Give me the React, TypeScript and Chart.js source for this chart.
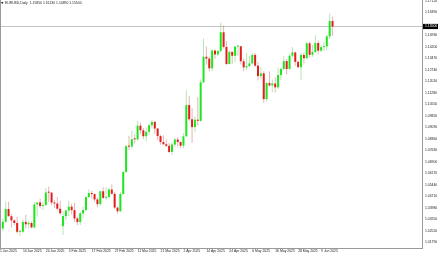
import React, { useEffect, useRef } from 'react';
import { Chart, registerables } from 'chart.js';

Chart.register(...registerables);

const symbolTitle = 'EURUSD,Daily';

const dates = [
  '01-01','01-02','01-03','01-06','01-07','01-08','01-09','01-10','01-13','01-14','01-15','01-16','01-17','01-20','01-21','01-22','01-23','01-24','01-27','01-28','01-29','01-30','01-31',
  '02-03','02-04','02-05','02-06','02-07','02-10','02-11','02-12','02-13','02-14','02-17','02-18','02-19','02-20','02-21','02-24','02-25','02-26','02-27','02-28',
  '03-03','03-04','03-05','03-06','03-07','03-10','03-11','03-12','03-13','03-14','03-17','03-18','03-19','03-20','03-21','03-24','03-25','03-26','03-27','03-28','03-31',
  '04-01','04-02','04-03','04-04','04-07','04-08','04-09','04-10','04-11','04-14','04-15','04-16','04-17','04-18','04-21','04-22','04-23','04-24','04-25','04-28','04-29','04-30',
  '05-01','05-02','05-05','05-06','05-07','05-08','05-09','05-12','05-13','05-14','05-15','05-16','05-19','05-20','05-21','05-22','05-23','05-26','05-27','05-28','05-29','05-30',
  '06-02','06-03','06-04','06-05','06-06','06-09','06-10','06-11','06-12','06-13',
];

const opens = [
  1.0354,1.0351,1.0265,1.0308,1.0389,1.0343,1.0317,1.0300,1.0244,1.0245,1.0307,1.0292,1.0300,1.0272,1.0418,1.0431,1.0408,1.0414,1.0494,1.0493,1.0430,1.0424,1.0391,
  1.0280,1.0344,1.0379,1.0404,1.0382,1.0329,1.0306,1.0361,1.0383,1.0465,1.0491,1.0484,1.0450,1.0420,1.0502,1.0460,1.0465,1.0513,1.0486,1.0398,
  1.0375,1.0485,1.0624,1.0789,1.0786,1.0833,1.0832,1.0919,1.0890,1.0852,1.0880,1.0922,1.0943,1.0901,1.0853,1.0815,1.0801,1.0791,1.0752,1.0799,1.0831,
  1.0815,1.0792,1.0851,1.1050,1.0960,1.0910,1.0957,1.0950,1.1195,1.1357,1.1346,1.1284,1.1397,1.1372,1.1395,1.1513,1.1420,1.1311,1.1389,1.1364,1.1422,1.1424,
  1.1329,1.1290,1.1298,1.1315,1.1369,1.1301,1.1234,1.1252,1.1088,1.1190,1.1175,1.1187,1.1163,1.1241,1.1280,1.1330,1.1280,1.1364,1.1385,1.1325,1.1291,1.1369,
  1.1348,1.1443,1.1370,1.1387,1.1445,1.1396,1.1419,1.1423,1.1487,1.1585,
];
const highs = [
  1.0376,1.0372,1.0325,1.0437,1.0436,1.0355,1.0321,1.0340,1.0255,1.0321,1.0353,1.0315,1.0309,1.0434,1.0431,1.0455,1.0432,1.0522,1.0533,1.0497,1.0445,1.0466,1.0442,
  1.0376,1.0386,1.0442,1.0423,1.0429,1.0338,1.0373,1.0404,1.0469,1.0513,1.0506,1.0490,1.0463,1.0506,1.0528,1.0528,1.0526,1.0545,1.0497,1.0405,
  1.0497,1.0632,1.0797,1.0854,1.0889,1.0864,1.0947,1.0940,1.0905,1.0906,1.0926,1.0955,1.0950,1.0904,1.0862,1.0858,1.0831,1.0809,1.0813,1.0843,1.0845,
  1.0818,1.0872,1.1144,1.1109,1.1030,1.0978,1.1100,1.1213,1.1474,1.1423,1.1358,1.1406,1.1402,1.1399,1.1573,1.1556,1.1456,1.1396,1.1390,1.1424,1.1430,1.1425,
  1.1345,1.1381,1.1363,1.1380,1.1381,1.1325,1.1293,1.1266,1.1197,1.1266,1.1212,1.1227,1.1288,1.1287,1.1363,1.1345,1.1375,1.1420,1.1390,1.1334,1.1383,1.1385,
  1.1455,1.1454,1.1434,1.1495,1.1462,1.1431,1.1449,1.1497,1.1631,1.1613,
];
const lows = [
  1.0340,1.0240,1.0248,1.0300,1.0343,1.0272,1.0287,1.0232,1.0218,1.0236,1.0266,1.0265,1.0266,1.0265,1.0342,1.0392,1.0385,1.0410,1.0435,1.0415,1.0395,1.0380,1.0349,
  1.0224,1.0317,1.0344,1.0354,1.0306,1.0286,1.0287,1.0335,1.0372,1.0460,1.0454,1.0435,1.0400,1.0410,1.0452,1.0447,1.0456,1.0479,1.0389,1.0360,
  1.0370,1.0477,1.0622,1.0765,1.0772,1.0806,1.0826,1.0866,1.0835,1.0822,1.0859,1.0902,1.0867,1.0827,1.0797,1.0797,1.0784,1.0745,1.0733,1.0785,1.0787,
  1.0777,1.0776,1.0850,1.0951,1.0811,1.0878,1.0920,1.0942,1.1190,1.1306,1.1264,1.1265,1.1345,1.1360,1.1385,1.1410,1.1306,1.1309,1.1313,1.1326,1.1362,1.1308,
  1.1265,1.1273,1.1292,1.1308,1.1292,1.1206,1.1215,1.1065,1.1073,1.1169,1.1132,1.1130,1.1153,1.1209,1.1271,1.1246,1.1275,1.1351,1.1300,1.1286,1.1211,1.1314,
  1.1342,1.1354,1.1357,1.1383,1.1373,1.1386,1.1392,1.1398,1.1470,1.1489,
];
const closes = [
  1.0351,1.0265,1.0308,1.0389,1.0343,1.0317,1.0300,1.0244,1.0245,1.0307,1.0292,1.0300,1.0272,1.0418,1.0431,1.0408,1.0414,1.0494,1.0493,1.0430,1.0424,1.0391,1.0362,
  1.0344,1.0379,1.0404,1.0382,1.0329,1.0306,1.0361,1.0383,1.0465,1.0491,1.0484,1.0450,1.0420,1.0502,1.0460,1.0465,1.0513,1.0486,1.0398,1.0375,
  1.0485,1.0624,1.0789,1.0786,1.0833,1.0832,1.0919,1.0890,1.0852,1.0880,1.0922,1.0943,1.0901,1.0853,1.0815,1.0801,1.0791,1.0752,1.0799,1.0831,1.0815,
  1.0792,1.0851,1.1050,1.0960,1.0910,1.0957,1.0950,1.1195,1.1357,1.1346,1.1284,1.1397,1.1372,1.1395,1.1513,1.1420,1.1311,1.1389,1.1364,1.1422,1.1424,1.1329,
  1.1290,1.1298,1.1315,1.1369,1.1301,1.1234,1.1252,1.1088,1.1190,1.1175,1.1187,1.1163,1.1241,1.1280,1.1330,1.1280,1.1364,1.1385,1.1325,1.1291,1.1369,1.1348,
  1.1443,1.1370,1.1387,1.1445,1.1396,1.1419,1.1423,1.1487,1.1585,1.1550,
];

const xTickIndices = [0, 9, 17, 25, 33, 41, 49, 57, 65, 73, 81, 89, 97, 105, 113];
const xTickLabels = [
  '1 Jan 2025', '14 Jan 2025', '24 Jan 2025', '5 Feb 2025', '17 Feb 2025', '27 Feb 2025', '11 Mar 2025',
  '21 Mar 2025', '2 Apr 2025', '14 Apr 2025', '24 Apr 2025', '6 May 2025', '16 May 2025', '28 May 2025', '9 Jun 2025',
];
// price-scale labels (the one at 1.15660 is hidden under the bid box)
const yTickValues = [
  1.17120, 1.16390, 1.14930, 1.14200, 1.13470, 1.12740, 1.12010, 1.11280, 1.10550, 1.09820, 1.09090,
  1.08360, 1.07630, 1.06900, 1.06170, 1.05440, 1.04710, 1.03980, 1.03250, 1.02520, 1.01790,
];

const yMin = 1.01411;
const yMax = 1.17184;
const xMin = 1.0115;
const xMax = 148.2;

const BULL = '#1ee61e';
const BEAR = '#e41c1c';
const BULL_WICK = 'rgba(90,200,90,0.45)';
const BEAR_WICK = 'rgba(200,90,90,0.45)';
const AXIS = '#9a9a9a';
const FONT = { family: 'Liberation Sans', size: 3.4 };

export default function App() {
  const ref = useRef<HTMLCanvasElement | null>(null);

  useEffect(() => {
    const canvas = ref.current;
    if (!canvas) return;
    const last = closes.length - 1;
    const isBull = (i: number) => closes[i] >= opens[i];

    const overlay = {
      id: 'mtOverlay',
      beforeDatasetsDraw(chart: any) {
        const { ctx, chartArea, scales } = chart;
        const y = Math.round(scales.y.getPixelForValue(closes[last])) + 0.5;
        ctx.save();
        ctx.strokeStyle = '#c4c4c4';
        ctx.lineWidth = 1;
        ctx.beginPath();
        ctx.moveTo(chartArea.left, y);
        ctx.lineTo(chartArea.right, y);
        ctx.stroke();
        ctx.restore();
      },
      afterDraw(chart: any) {
        const { ctx, chartArea, scales } = chart;
        ctx.save();
        ctx.strokeStyle = AXIS;
        ctx.lineWidth = 1;
        ctx.beginPath();
        ctx.moveTo(0.5, 0);
        ctx.lineTo(0.5, chartArea.bottom);
        ctx.stroke();
        const y = scales.y.getPixelForValue(closes[last]);
        ctx.fillStyle = '#000';
        ctx.fillRect(chartArea.right + 1, y - 2.6, 15, 5.2);
        ctx.fillStyle = '#fff';
        ctx.font = `${FONT.size}px ${FONT.family}`;
        ctx.textBaseline = 'middle';
        ctx.textAlign = 'left';
        ctx.fillText(closes[last].toFixed(5), chartArea.right + 3, y);
        ctx.fillStyle = '#333';
        ctx.beginPath();
        ctx.moveTo(1, 2);
        ctx.lineTo(3.5, 2);
        ctx.lineTo(2.25, 4.2);
        ctx.closePath();
        ctx.fill();
        ctx.fillStyle = '#222';
        const t = `${symbolTitle}  ${opens[last].toFixed(5)} ${highs[last].toFixed(5)} ${lows[last].toFixed(5)} ${closes[last].toFixed(5)}`;
        ctx.fillText(t, 5, 3.4);
        ctx.restore();
      },
    };

    const chart = new Chart(canvas, {
      type: 'bar',
      data: {
        datasets: [
          {
            label: 'body',
            data: dates.map((_, i) => ({ x: i, y: [opens[i], closes[i]] })) as any,
            backgroundColor: dates.map((_, i) => (isBull(i) ? BULL : BEAR)),
            barThickness: 2,
            minBarLength: 1,
            grouped: false,
            inflateAmount: 0,
            borderWidth: 0,
            order: 0,
          } as any,
          {
            label: 'wick',
            data: dates.map((_, i) => ({ x: i, y: [lows[i], highs[i]] })) as any,
            backgroundColor: dates.map((_, i) => (isBull(i) ? BULL_WICK : BEAR_WICK)),
            barThickness: 1,
            grouped: false,
            inflateAmount: 0,
            borderWidth: 0,
            order: 1,
          } as any,
        ],
      },
      options: {
        responsive: false,
        animation: false,
        devicePixelRatio: 1,
        events: [],
        layout: { padding: 0 },
        plugins: { legend: { display: false }, tooltip: { enabled: false }, title: { display: false } },
        scales: {
          x: {
            type: 'linear',
            min: xMin,
            max: xMax,
            offset: false,
            grid: { display: false, drawTicks: false },
            border: { display: true, color: AXIS, width: 1 },
            afterBuildTicks: (s: any) => {
              s.ticks = xTickIndices.map((i) => ({ value: Math.max(i, s.min) }));
            },
            afterFit: (s: any) => {
              s.height = 6;
              s.paddingLeft = 0;
              s.paddingRight = 0;
            },
            ticks: {
              autoSkip: false,
              maxRotation: 0,
              minRotation: 0,
              align: 'start',
              padding: 1,
              color: '#222',
              font: FONT,
              callback: (_v: any, idx: number) => xTickLabels[idx],
            },
          } as any,
          y: {
            type: 'linear',
            position: 'right',
            min: yMin,
            max: yMax,
            grid: { display: false, drawTicks: false },
            border: { display: true, color: AXIS, width: 1 },
            afterBuildTicks: (s: any) => {
              s.ticks = yTickValues.map((v) => ({ value: v }));
            },
            afterFit: (s: any) => {
              s.width = 18;
              s.paddingTop = 0;
              s.paddingBottom = 0;
            },
            ticks: {
              padding: 3,
              color: '#222',
              font: FONT,
              callback: (v: any) => Number(v).toFixed(5),
            },
          } as any,
        },
      },
      plugins: [overlay],
    });
    return () => chart.destroy();
  }, []);

  return (
    <div style={{ position: 'fixed', left: 0, top: 0, width: 440, height: 254, background: '#fff' }}>
      <canvas ref={ref} width={440} height={254} style={{ display: 'block', width: 440, height: 254 }} />
    </div>
  );
}
